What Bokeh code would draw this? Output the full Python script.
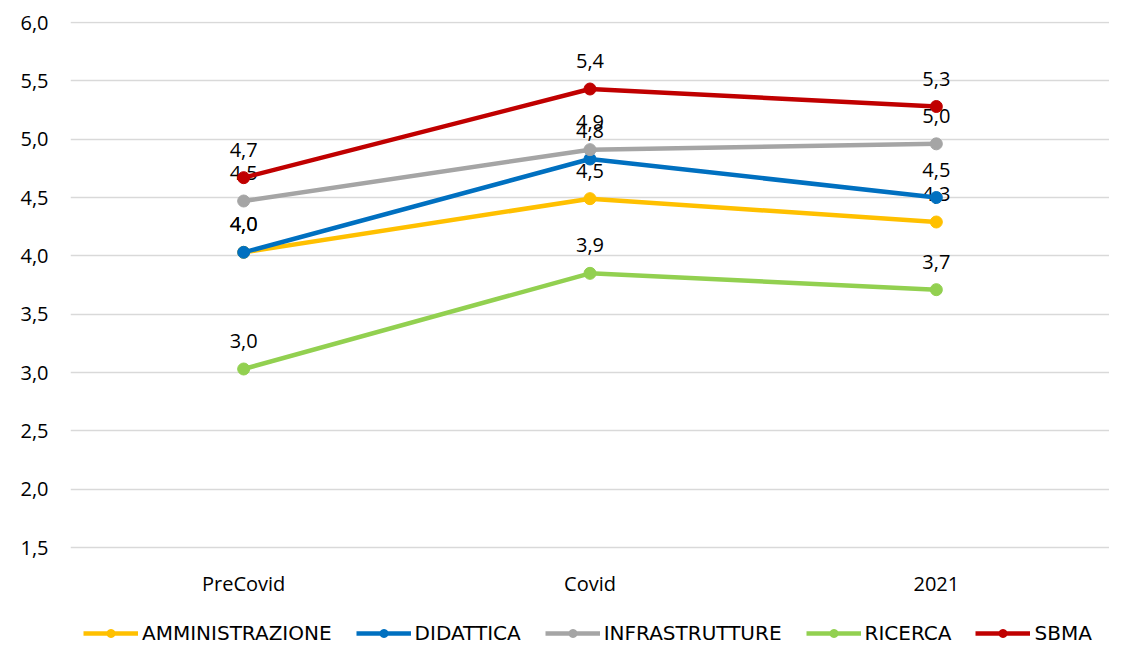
from bokeh.core.properties import value
from bokeh.embed import file_html
from bokeh.models import (ColumnDataSource, CustomJSTickFormatter, FactorRange, FixedTicker,
                          Legend, LegendItem, Range1d)
from bokeh.plotting import figure
from bokeh.resources import INLINE

# dati
periodi = ["PreCovid", "Covid", "2021"]
amministrazione = [4.03, 4.49, 4.29]
didattica = [4.03, 4.83, 4.50]
infrastrutture = [4.47, 4.91, 4.96]
ricerca = [3.03, 3.85, 3.71]
sbma = [4.67, 5.43, 5.28]
y_ticks = [1.5, 2.0, 2.5, 3.0, 3.5, 4.0, 4.5, 5.0, 5.5, 6.0]

serie = [
    ("AMMINISTRAZIONE", amministrazione, "#FFC000"),
    ("DIDATTICA", didattica, "#0070C0"),
    ("INFRASTRUTTURE", infrastrutture, "#A5A5A5"),
    ("RICERCA", ricerca, "#92D050"),
    ("SBMA", sbma, "#C00000"),
]

FONT = "Open Sans"

# il frame scende fino in fondo: etichette asse x e legenda stanno dentro
p = figure(x_range=FactorRange(*periodi, start=-0.041, end=2.944), y_range=Range1d(0.66, 6.0086),
           width=1109, height=645, output_backend="svg", toolbar_location=None,
           min_border_left=70, min_border_right=0, min_border_top=21, min_border_bottom=0)
p.outline_line_color = None
p.xgrid.grid_line_color = None
p.ygrid.grid_line_color = "#D9D9D9"
p.ygrid.grid_line_width = 1.5
p.xaxis.visible = False
p.yaxis.ticker = FixedTicker(ticks=y_ticks)
p.yaxis.formatter = CustomJSTickFormatter(code="return tick.toFixed(1).replace('.', ',');")
p.yaxis.axis_line_color = None
p.yaxis.major_tick_line_color = None
p.yaxis.minor_tick_line_color = None
p.yaxis.major_label_text_font = FONT
p.yaxis.major_label_text_font_size = "20px"
p.yaxis.major_label_text_color = "#000000"
p.yaxis.major_label_standoff = 16

# etichette categorie sotto l'ultima griglia
cat_src = ColumnDataSource(dict(x=periodi, y=[y_ticks[0]] * 3))
p.text("x", "y", text="x", source=cat_src, text_align="center", text_baseline="middle",
       y_offset=36, text_font=value(FONT), text_font_size="20px", text_color="#000000")

items = []
for nome, vals, col in serie:
    src = ColumnDataSource(dict(x=periodi, y=vals,
                                lab=[f"{v:.1f}".replace(".", ",") for v in vals]))
    r1 = p.line("x", "y", source=src, line_color=col, line_width=4.5)
    r2 = p.scatter("x", "y", source=src, size=12, fill_color=col, line_color=col)
    p.text("x", "y", text="lab", source=src, text_align="center", text_baseline="bottom",
           y_offset=-21, text_font=value(FONT), text_font_size="20px", text_color="#000000")
    items.append(LegendItem(label=nome, renderers=[r1, r2]))

leg = Legend(items=items, orientation="horizontal", location=(13, 0),
             label_text_font="DejaVu Sans", label_text_font_size="20px", label_text_color="#000000",
             glyph_width=55, spacing=24, padding=0, margin=0, border_line_color=None,
             background_fill_alpha=0, label_standoff=4, label_height=20, glyph_height=20)
p.add_layout(leg)

open("out.html", "w").write(file_html(p, INLINE))
